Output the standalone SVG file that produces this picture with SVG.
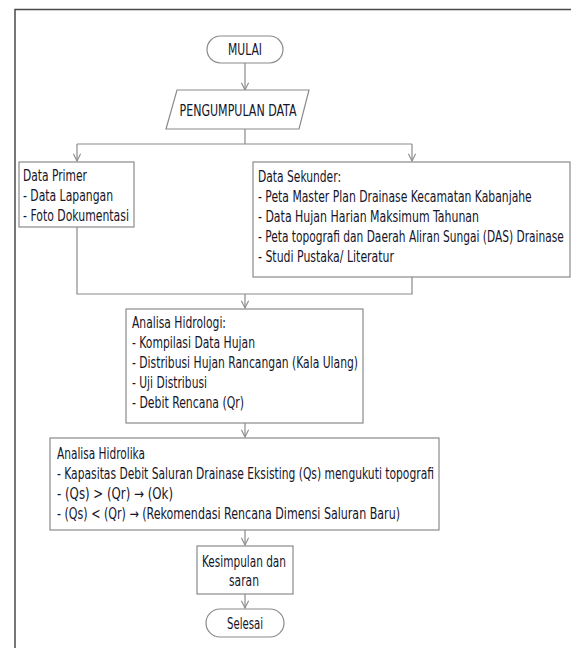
<svg xmlns="http://www.w3.org/2000/svg" width="571" height="648" viewBox="0 0 571 648">
<style>
.box{fill:#fff;stroke:#8a8a8a;stroke-width:1.2}
.t{font-family:"Liberation Sans Narrow","DejaVu Sans Condensed","Liberation Sans",Arial,sans-serif;font-size:15px;fill:#15152a}
.c{text-anchor:middle}
.ln{fill:none;stroke:#8a8a8a;stroke-width:1.2}
</style>
<defs>
<marker id="ah" viewBox="0 0 10 10" refX="9" refY="5" markerWidth="9" markerHeight="9" markerUnits="userSpaceOnUse" orient="auto">
<path d="M1,1 L9,5 L1,9" fill="none" stroke="#8a8a8a" stroke-width="1.2"/>
</marker>
</defs>
<rect width="571" height="648" fill="#fff"/>
<g id="frame">
<path d="M15,648 L15,9.5 L571,9.5" fill="none" stroke="#4a4a4a" stroke-width="1.5"/>
</g>
<g id="connectors">
<path class="ln" d="M245,63 L245,90" marker-end="url(#ah)"/>
<path class="ln" d="M245,129 L245,144 M77,144 L412,144"/>
<path class="ln" d="M77,144 L77,161" marker-end="url(#ah)"/>
<path class="ln" d="M412,144 L412,161" marker-end="url(#ah)"/>
<path class="ln" d="M77,227 L77,294 L412,294 L412,277"/>
<path class="ln" d="M245,294 L245,308" marker-end="url(#ah)"/>
<path class="ln" d="M245,423 L245,437" marker-end="url(#ah)"/>
<path class="ln" d="M245,530 L245,545" marker-end="url(#ah)"/>
<path class="ln" d="M245,594 L245,608" marker-end="url(#ah)"/>
</g>
<g id="mulai">
<rect class="box" x="207" y="36" width="76" height="27" rx="13.5"/>
<text class="t c" x="245" y="55" textLength="34" lengthAdjust="spacingAndGlyphs">MULAI</text>
</g>
<g id="pengumpulan">
<polygon class="box" points="177,90 309,90 299,129 166,129"/>
<text class="t c" x="238" y="115.5" textLength="117" lengthAdjust="spacingAndGlyphs">PENGUMPULAN DATA</text>
</g>
<g id="data-primer">
<rect class="box" x="19" y="162" width="115" height="65"/>
<text class="t" x="23" y="180.5" textLength="64" lengthAdjust="spacingAndGlyphs">Data Primer</text>
<text class="t" x="23" y="200.5" textLength="90" lengthAdjust="spacingAndGlyphs">- Data Lapangan</text>
<text class="t" x="23" y="220.5" textLength="106" lengthAdjust="spacingAndGlyphs">- Foto Dokumentasi</text>
</g>
<g id="data-sekunder">
<rect class="box" x="253" y="162" width="317" height="115"/>
<text class="t" x="258" y="181.5" textLength="83" lengthAdjust="spacingAndGlyphs">Data Sekunder:</text>
<text class="t" transform="translate(258,201.5) scale(0.78,1)" x="0" y="0" textLength="351" lengthAdjust="spacingAndGlyphs">- Peta Master Plan Drainase Kecamatan Kabanjahe</text>
<text class="t" x="258" y="221.5" textLength="221" lengthAdjust="spacingAndGlyphs">- Data Hujan Harian Maksimum Tahunan</text>
<text class="t" transform="translate(258,241.5) scale(0.78,1)" x="0" y="0" textLength="392" lengthAdjust="spacingAndGlyphs">- Peta topografi dan Daerah Aliran Sungai (DAS) Drainase</text>
<text class="t" x="258" y="261.5" textLength="136" lengthAdjust="spacingAndGlyphs">- Studi Pustaka/ Literatur</text>
</g>
<g id="hidrologi">
<rect class="box" x="126" y="309" width="237" height="114"/>
<text class="t" x="132" y="327.5" textLength="94" lengthAdjust="spacingAndGlyphs">Analisa Hidrologi:</text>
<text class="t" x="132" y="347.5" textLength="123" lengthAdjust="spacingAndGlyphs">- Kompilasi Data Hujan</text>
<text class="t" x="132" y="367.5" textLength="226" lengthAdjust="spacingAndGlyphs">- Distribusi Hujan Rancangan (Kala Ulang)</text>
<text class="t" x="132" y="387.5" textLength="75" lengthAdjust="spacingAndGlyphs">- Uji Distribusi</text>
<text class="t" x="132" y="407.5" textLength="112" lengthAdjust="spacingAndGlyphs">- Debit Rencana (Qr)</text>
</g>
<g id="hidrolika">
<rect class="box" x="50" y="438" width="389" height="92"/>
<text class="t" x="57" y="458.5" textLength="88" lengthAdjust="spacingAndGlyphs">Analisa Hidrolika</text>
<text class="t" x="57" y="478.5" textLength="377" lengthAdjust="spacingAndGlyphs">- Kapasitas Debit Saluran Drainase Eksisting (Qs) mengukuti topografi</text>
<text class="t" x="57" y="498.5" textLength="116" lengthAdjust="spacingAndGlyphs">- (Qs) &gt; (Qr) → (Ok)</text>
<text class="t" x="57" y="518.5" textLength="343" lengthAdjust="spacingAndGlyphs">- (Qs) &lt; (Qr) → (Rekomendasi Rencana Dimensi Saluran Baru)</text>
</g>
<g id="kesimpulan">
<rect class="box" x="197" y="546" width="96" height="48"/>
<text class="t c" x="244" y="566.5" textLength="84" lengthAdjust="spacingAndGlyphs">Kesimpulan dan</text>
<text class="t c" x="244" y="585.5" textLength="30" lengthAdjust="spacingAndGlyphs">saran</text>
</g>
<g id="selesai">
<rect class="box" x="206" y="609" width="78" height="28" rx="14"/>
<text class="t c" x="245" y="628.5" textLength="36" lengthAdjust="spacingAndGlyphs">Selesai</text>
</g>
</svg>
